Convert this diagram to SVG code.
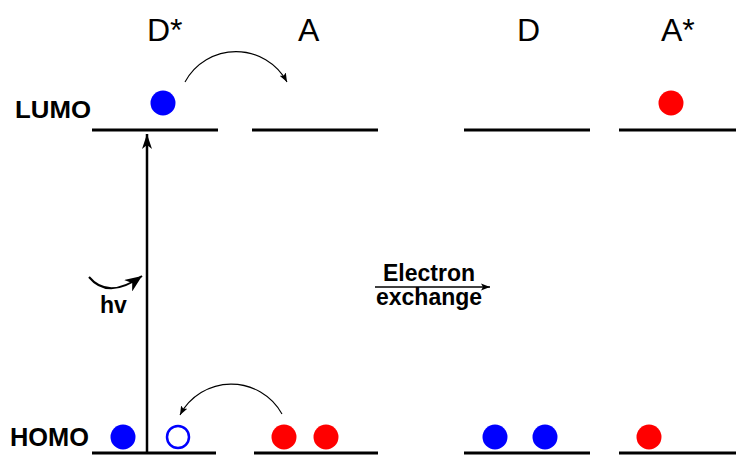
<svg xmlns="http://www.w3.org/2000/svg" width="736" height="455" viewBox="0 0 736 455">
<style>
.lvl{stroke:#000;stroke-width:3;fill:none}
.lbl{font-family:"Liberation Sans",Arial,sans-serif;fill:#000}
.big{font-size:32px}
.bold{font-weight:bold}
.e-blue{fill:#0000ff}
.e-red{fill:#ff0000}
.hole{fill:none;stroke:#0000ff;stroke-width:2.5}
.thin{stroke:#000;stroke-width:1.1;fill:none}
</style>
<defs>
<marker id="ahThin" markerUnits="userSpaceOnUse" markerWidth="10" markerHeight="8" refX="9" refY="4" orient="auto">
<path d="M0,0.5 L9,4 L0,7.5 L2,4 Z" fill="#000"/>
</marker>
<marker id="ahBig" markerUnits="userSpaceOnUse" markerWidth="18" markerHeight="14" refX="17" refY="7" orient="auto">
<path d="M0,0 L17,7 L0,14 L5,7 Z" fill="#000"/>
</marker>
<marker id="ahUp" markerUnits="userSpaceOnUse" markerWidth="16" markerHeight="12" refX="15" refY="6" orient="auto">
<path d="M0,1 L15,6 L0,11 L4,6 Z" fill="#000"/>
</marker>
</defs>

<g id="labels">
<text class="lbl big" x="147" y="41">D*</text>
<text class="lbl big" x="298" y="41">A</text>
<text class="lbl big" x="517" y="41">D</text>
<text class="lbl big" x="661" y="41">A*</text>
<text class="lbl bold" x="15" y="118" font-size="23" textLength="76" lengthAdjust="spacingAndGlyphs">LUMO</text>
<text class="lbl bold" x="10" y="446" font-size="25" textLength="79" lengthAdjust="spacingAndGlyphs">HOMO</text>
</g>

<g id="levels">
<line class="lvl" x1="92" y1="130" x2="218" y2="130"/>
<line class="lvl" x1="252" y1="130" x2="378" y2="130"/>
<line class="lvl" x1="464" y1="130" x2="590" y2="130"/>
<line class="lvl" x1="619" y1="130" x2="736" y2="130"/>
<line class="lvl" x1="92" y1="453" x2="216" y2="453"/>
<line class="lvl" x1="254" y1="453" x2="378" y2="453"/>
<line class="lvl" x1="464" y1="453" x2="590" y2="453"/>
<line class="lvl" x1="619" y1="453" x2="736" y2="453"/>
</g>

<g id="electrons">
<circle class="e-blue" cx="163" cy="103" r="12.5"/>
<circle class="e-red" cx="671" cy="103" r="12.5"/>
<circle class="e-blue" cx="123" cy="437" r="12.5"/>
<circle class="hole" cx="178" cy="437" r="11"/>
<circle class="e-red" cx="284" cy="437" r="12.5"/>
<circle class="e-red" cx="326" cy="437" r="12.5"/>
<circle class="e-blue" cx="495" cy="437" r="12.5"/>
<circle class="e-blue" cx="545" cy="437" r="12.5"/>
<circle class="e-red" cx="649" cy="437" r="12.5"/>
</g>

<g id="connectors">
<line x1="147" y1="453" x2="147" y2="134" stroke="#000" stroke-width="2.5" marker-end="url(#ahUp)"/>
<path class="thin" d="M185,82 A58,58 0 0 1 287,82" marker-end="url(#ahThin)"/>
<path class="thin" d="M282,414 A58,58 0 0 0 180,415" marker-end="url(#ahThin)"/>
<path d="M89,277 Q108,300 142,276" stroke="#000" stroke-width="2" fill="none" marker-end="url(#ahBig)"/>
<line x1="375" y1="287" x2="490" y2="287" stroke="#000" stroke-width="1.5" marker-end="url(#ahThin)"/>
</g>

<g id="texts">
<text class="lbl bold" x="100" y="313" font-size="23">hv</text>
<text class="lbl bold" x="383" y="281" font-size="23">Electron</text>
<text class="lbl bold" x="376" y="305" font-size="23">exchange</text>
</g>
</svg>
